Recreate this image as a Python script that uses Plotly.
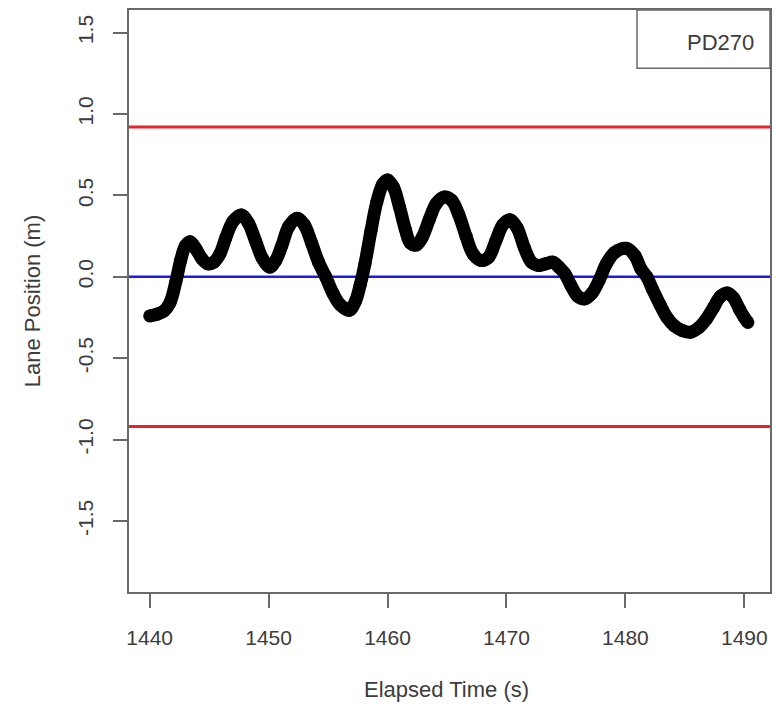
import plotly.graph_objects as go

# Elapsed time (s) and lateral lane position (m) for run PD270
elapsed_time = [
    1440.0, 1440.6, 1441.2, 1441.7, 1442.2, 1442.6, 1443.0, 1443.4, 1443.9, 1444.4,
    1444.9, 1445.4, 1445.9, 1446.4, 1447.0, 1447.7, 1448.3, 1448.9, 1449.5, 1450.1,
    1450.6, 1451.1, 1451.7, 1452.4, 1453.0, 1453.6, 1454.2, 1454.8, 1455.4, 1456.0,
    1456.8, 1457.3, 1457.7, 1458.1, 1458.6, 1459.1, 1459.6, 1460.0, 1460.5, 1461.0,
    1461.5, 1461.9, 1462.4, 1462.9, 1463.5, 1464.1, 1464.8, 1465.4, 1466.0, 1466.6,
    1467.2, 1467.9, 1468.5, 1469.1, 1469.7, 1470.3, 1470.9, 1471.5, 1472.1, 1472.7,
    1473.3, 1473.9, 1474.4, 1474.9, 1475.4, 1476.0, 1476.6, 1477.2, 1477.8, 1478.4,
    1479.1, 1480.1, 1480.8, 1481.3, 1481.8, 1482.3, 1482.9, 1483.5, 1484.1, 1484.8,
    1485.5, 1486.2, 1486.8, 1487.4, 1488.0, 1488.6, 1489.1, 1489.6, 1490.0, 1490.3,
]
lane_position = [
    -0.24, -0.23, -0.21, -0.16, -0.03, 0.10, 0.19, 0.215, 0.17, 0.11,
    0.08, 0.09, 0.14, 0.24, 0.34, 0.38, 0.33, 0.22, 0.11, 0.06,
    0.10, 0.19, 0.31, 0.36, 0.32, 0.21, 0.09, 0.00, -0.10, -0.17,
    -0.205, -0.15, -0.05, 0.08, 0.28, 0.46, 0.57, 0.595, 0.55, 0.43,
    0.29, 0.21, 0.195, 0.24, 0.35, 0.45, 0.49, 0.47, 0.38, 0.25,
    0.14, 0.10, 0.12, 0.22, 0.32, 0.35, 0.30, 0.18, 0.09, 0.07,
    0.08, 0.09, 0.06, 0.02, -0.05, -0.12, -0.135, -0.10, -0.02, 0.08,
    0.15, 0.175, 0.13, 0.05, 0.00, -0.08, -0.17, -0.25, -0.30, -0.33,
    -0.34, -0.31, -0.26, -0.19, -0.12, -0.10, -0.13, -0.20, -0.25, -0.28,
]

lane_edges = [0.92, -0.92]
lane_center = 0.0
series_name = "PD270"

x_ticks = [1440, 1450, 1460, 1470, 1480, 1490]
y_ticks = [-1.5, -1.0, -0.5, 0.0, 0.5, 1.0, 1.5]

FONT = "Liberation Sans, Arial, sans-serif"
TEXT = "#3c3c3c"
FRAME = "#6a6a6a"

fig = go.Figure()

for y in lane_edges:
    fig.add_hline(y=y, line=dict(color="#e8232b", width=3), layer="below")
fig.add_hline(y=lane_center, line=dict(color="#1c1ce6", width=2.5), layer="below")

fig.add_trace(go.Scatter(
    x=elapsed_time, y=lane_position,
    mode="lines+markers",
    line=dict(color="black", width=13, shape="spline", smoothing=1.0),
    marker=dict(color="black", size=13),
    name=series_name, showlegend=False, hoverinfo="x+y",
))

axis_common = dict(
    showgrid=False, zeroline=False,
    showline=True, linecolor=FRAME, linewidth=1.5, mirror=True,
    ticks="outside", ticklen=14, tickwidth=1.5, tickcolor=FRAME,
    tickfont=dict(family=FONT, size=21, color=TEXT),
)

fig.update_xaxes(
    range=[1438.26, 1492.16], tickvals=x_ticks,
    ticktext=[str(v) for v in x_ticks], ticklabelstandoff=12,
    **axis_common,
)
fig.update_yaxes(
    range=[-1.936, 1.639], tickvals=y_ticks,
    ticktext=[f"{v:.1f}" for v in y_ticks], tickangle=-90, ticklabelstandoff=12,
    **axis_common,
)

# Legend box in the top-right corner
fig.add_shape(type="rect", xref="x domain", yref="y domain",
              x0=0.7925, x1=1.0, y0=0.900, y1=1.0,
              line=dict(color=FRAME, width=1.5), fillcolor="white")
fig.add_annotation(xref="x domain", yref="y domain", x=0.978, y=0.945,
                   text=series_name, showarrow=False, xanchor="right", yanchor="middle",
                   font=dict(family=FONT, size=22, color=TEXT))

# Axis titles
fig.add_annotation(xref="paper", yref="paper", x=0.496, y=-0.167,
                   text="Elapsed Time (s)", showarrow=False,
                   xanchor="center", yanchor="middle",
                   font=dict(family=FONT, size=22, color=TEXT))
fig.add_annotation(xref="paper", yref="paper", x=-0.151, y=0.5,
                   text="Lane Position (m)", showarrow=False, textangle=-90,
                   xanchor="center", yanchor="middle",
                   font=dict(family=FONT, size=22, color=TEXT))

fig.update_layout(
    width=776, height=704,
    margin=dict(l=129, r=4, t=10, b=112),
    paper_bgcolor="white", plot_bgcolor="white",
    showlegend=False,
)

fig.write_html("out.html")
